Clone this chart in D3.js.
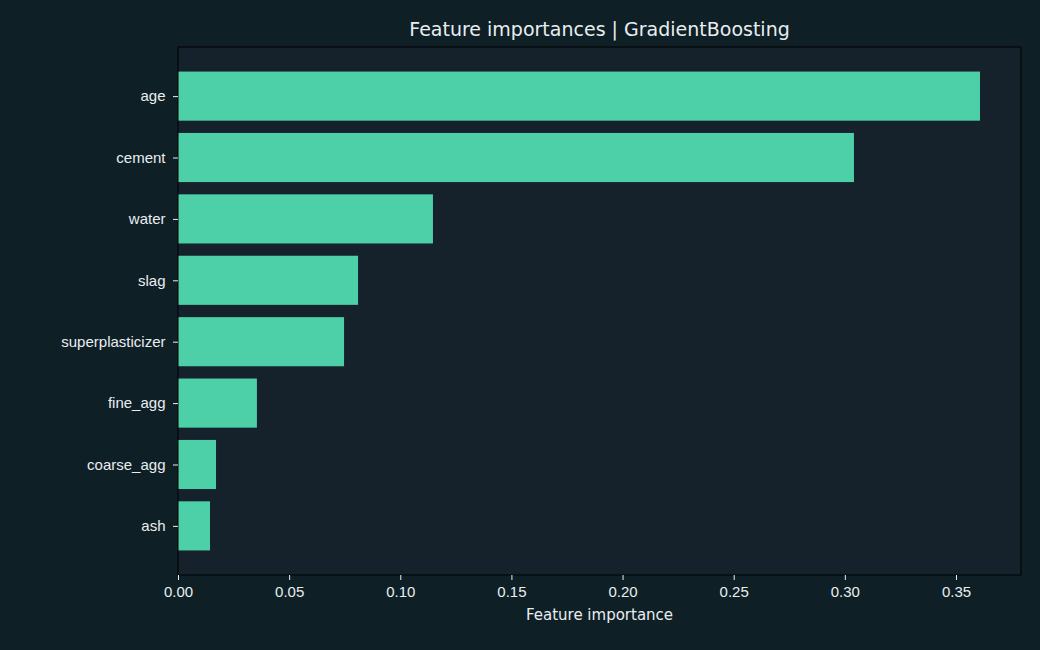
<!DOCTYPE html><html><head><meta charset="utf-8">
<script src="https://d3js.org/d3.v7.min.js"></script>
<style>body{margin:0;background:#0f1f26}</style></head><body>
<script>
const categories=["age","cement","water","slag","superplasticizer","fine_agg","coarse_agg","ash"];
const values=[0.3608,0.3041,0.1147,0.0810,0.0747,0.0355,0.0171,0.0144];
const xTicks=[0,0.05,0.10,0.15,0.20,0.25,0.30,0.35];
const W=1040,H=650,L=178,R=1021,T=47,B=575;
const svg=d3.select("body").append("svg").attr("width",W).attr("height",H).style("font-family","DejaVu Sans");
svg.append("rect").attr("width",W).attr("height",H).attr("fill","#0f1f26");
svg.append("rect").attr("x",L).attr("y",T).attr("width",R-L).attr("height",B-T).attr("fill","#15222c");
const x=d3.scaleLinear().domain([0,0.37925]).range([L,R]);
const y=d3.scaleLinear().domain([-0.8,7.8]).range([T,B]);
const bh=y(0.8)-y(0);
svg.selectAll(".bar").data(values).join("rect").attr("x",x(0)).attr("y",(d,i)=>y(i-0.4))
 .attr("width",d=>x(d)-x(0)).attr("height",bh).attr("fill","#4dd0a8");
svg.append("rect").attr("x",L).attr("y",T).attr("width",R-L).attr("height",B-T).attr("fill","none").attr("stroke","#000").attr("stroke-width",1);
const xa=svg.append("g").attr("transform",`translate(0,${B})`).call(d3.axisBottom(x).tickValues(xTicks).tickFormat(d3.format(".2f")).tickSize(5).tickSizeOuter(0));
xa.select(".domain").remove();
xa.selectAll("line").attr("stroke","#e8eef0");
xa.selectAll("text").attr("fill","#e8eef0").attr("font-size",15).attr("dy","0.9em");
const ya=svg.append("g").attr("transform",`translate(${L},0)`).call(d3.axisLeft(d3.scaleOrdinal().domain(categories).range(categories.map((c,i)=>y(i)))).tickSize(5));
ya.select(".domain").remove();
ya.selectAll("line").attr("stroke","#e8eef0");
ya.selectAll("text").attr("fill","#e8eef0").attr("font-size",15).attr("dx","-0.3em");
svg.append("text").attr("x",(L+R)/2).attr("y",620).attr("text-anchor","middle").attr("fill","#e8eef0").attr("font-size",15).text("Feature importance");
svg.append("text").attr("x",(L+R)/2).attr("y",36).attr("text-anchor","middle").attr("fill","#e8eef0").attr("font-size",19).text("Feature importances  |  GradientBoosting");
</script></body></html>
